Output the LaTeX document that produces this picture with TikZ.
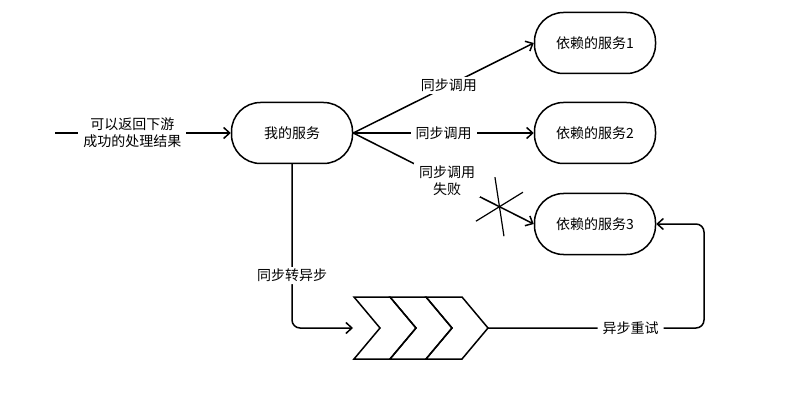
\documentclass[tikz,border=0pt]{standalone}
\usepackage{fontspec}
\setmainfont{Noto Sans CJK SC}
\usetikzlibrary{arrows.meta}

\begin{document}
\begin{tikzpicture}[x=1pt,y=-1pt,
  svc/.style={draw, line width=1.5pt, rounded corners=29pt, minimum width=121pt, minimum height=61pt, font=\fontsize{14}{16}\selectfont},
  flow/.style={line width=1.5pt, -{Straight Barb[length=6pt,width=11pt]}},
  lbl/.style={fill=white, inner xsep=5pt, inner ysep=2pt, align=center, font=\fontsize{14}{17}\selectfont}]
% Canvas
\fill[white] (0,0) rectangle (800,406);
\useasboundingbox (0,0) rectangle (800,406);

% Services
\node[svc] (me) at (292,133) {我的服务};
\node[svc] (dep1) at (595,43) {依赖的服务1};
\node[svc] (dep2) at (595,133) {依赖的服务2};
\node[svc] (dep3) at (595,224) {依赖的服务3};

% Incoming call
\coordinate (src) at (55,133);
\draw[flow] (src) -- node[lbl,pos=0.44] {可以返回下游\\成功的处理结果} (me);

% Synchronous calls
\draw[flow] (me.east) -- node[lbl,pos=0.53] {同步调用} (dep1.west);
\draw[flow] (me.east) -- node[lbl,pos=0.5] {同步调用} (dep2.west);
\draw[flow] (me.east) -- node[lbl,pos=0.52] {同步调用\\失败} coordinate[pos=0.81] (cut) (dep3.west);

% Failure mark
\draw[line width=1.2pt] ([shift={(-4.5,-29.5)}]cut) -- ([shift={(4.5,29.5)}]cut);
\draw[line width=1.2pt] ([shift={(-23.5,14.5)}]cut) -- ([shift={(23.5,-14.5)}]cut);

% Queue chevrons
\foreach \x in {354,390,426}
  \draw[line width=1.5pt, line join=miter] (\x,297) -- ++(36,0) -- ++(26,31) -- ++(-26,31) -- ++(-36,0) -- ++(26,-31) -- cycle;
\coordinate (qin) at (353,328);
\coordinate (qtip) at (488,328);

% Sync to async
\draw[flow, rounded corners=8pt] (me.south) |- node[lbl,pos=0.34] {同步转异步} (qin);

% Async retry
\coordinate (turn) at (704,328);
\draw[flow, rounded corners=8pt] (qtip) -- node[lbl,pos=0.66] {异步重试} (turn) |- (dep3.east);

\end{tikzpicture}
\end{document}
